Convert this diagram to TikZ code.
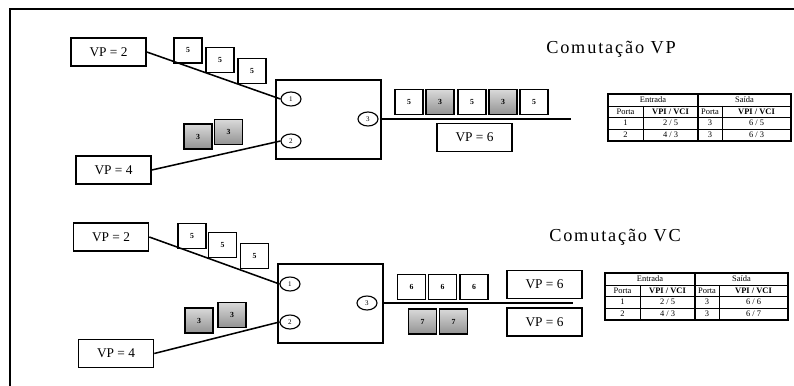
\documentclass[tikz,border=0pt]{standalone}
\usepackage{fontspec}
\setmainfont{Liberation Serif}
\usetikzlibrary{shapes.geometric}

% Tabela de comutacao: #1 prefixo, #2 posicao, #3 e #4 saidas
\newcommand{\tabela}[4]{%
  \begin{scope}[shift={#2}]
    \draw[line width=0.9pt] (0,0) rectangle (183,47);
    \draw[thin] (0,12) -- (183,12) (0,23) -- (183,23) (0,35) -- (183,35);
    \draw[line width=0.9pt] (90,0) -- (90,47);
    \draw[thin] (35,12) -- (35,47) (114,12) -- (114,47);
    \node[tabtxt] (#1ent) at (45,6) {Entrada};
    \node[tabtxt] (#1sai) at (136.5,6) {Saída};
    \node[tabtxt] (#1p1) at (17.5,17.5) {Porta};
    \node[tabtxt, font=\fontsize{6}{7}\selectfont\bfseries] (#1v1) at (62.5,17.5) {VPI / VCI};
    \node[tabtxt] (#1p2) at (102,17.5) {Porta};
    \node[tabtxt, font=\fontsize{6}{7}\selectfont\bfseries] (#1v2) at (148.5,17.5) {VPI / VCI};
    \node[tabtxt] (#1a1) at (17.5,29) {1};
    \node[tabtxt] (#1b1) at (62.5,29) {2 / 5};
    \node[tabtxt] (#1c1) at (102,29) {3};
    \node[tabtxt] (#1d1) at (148.5,29) {#3};
    \node[tabtxt] (#1a2) at (17.5,41) {2};
    \node[tabtxt] (#1b2) at (62.5,41) {4 / 3};
    \node[tabtxt] (#1c2) at (102,41) {3};
    \node[tabtxt] (#1d2) at (148.5,41) {#4};
  \end{scope}}

\begin{document}
\begin{tikzpicture}[x=0.025cm, y=-0.025cm,
    linha/.style={line width=1.1pt},
    vpbox/.style={draw, line width=1.1pt, minimum width=1.875cm, minimum height=0.7cm, inner sep=0pt, font=\fontsize{9.5}{10}\selectfont},
    celula/.style={draw, line width=1pt, minimum width=0.7cm, minimum height=0.62cm, inner sep=0pt, font=\fontsize{5.5}{6}\selectfont\bfseries},
    celescura/.style={celula, top color=gray!30, bottom color=gray!85},
    porta/.style={draw, ellipse, line width=0.8pt, minimum width=0.5cm, minimum height=0.35cm, inner sep=0pt, font=\fontsize{5}{6}\selectfont},
    comutador/.style={draw, line width=1.1pt, minimum width=2.625cm, minimum height=1.975cm, inner sep=0pt},
    titulo/.style={font=\fontsize{13}{14}\selectfont\addfontfeature{LetterSpace=10}},
    tabtxt/.style={inner sep=0pt, font=\fontsize{6}{7}\selectfont}]
    \useasboundingbox (0,0) rectangle (794,386);

    % Moldura
    \draw[line width=1.1pt] (10,386) -- (10,9) -- (794,9);

    % ---------- Comutacao VP ----------
    \node[titulo] (tvp) at (611,49) {Comutação VP};

    \node[vpbox] (vp2a) at (108.5,52) {VP = 2};
    \node[vpbox] (vp4a) at (113.5,170) {VP = 4};
    \node[comutador] (swa) at (328.5,119.5) {};
    \node[porta] (p1a) at (291,99) {1};
    \node[porta] (p2a) at (291,141) {2};
    \node[porta] (p3a) at (368,119) {3};
    \coordinate (fima) at (571,119);

    \draw[linha] (vp2a.east) -- (p1a.west);
    \draw[linha] (vp4a.east) -- (p2a.west);
    \draw[linha] (swa.east |- p3a) -- (fima);

    % Celulas de entrada
    \node[celula] (ca1) at (188,50.5) {5};
    \node[celula] (ca2) at (220,60) {5};
    \node[celula] (ca3) at (252,71) {5};
    \node[celescura] (ca4) at (198,136.5) {3};
    \node[celescura] (ca5) at (228.5,132) {3};

    % Celulas de saida
    \node[celula] (sa1) at (409,102) {5};
    \node[celescura] (sa2) at (440,102) {3};
    \node[celula] (sa3) at (472,102) {5};
    \node[celescura] (sa4) at (503,102) {3};
    \node[celula] (sa5) at (534,102) {5};
    \node[vpbox] (vp6a) at (474.5,137.5) {VP = 6};

    \tabela{ta}{(608,94)}{6 / 5}{6 / 3}

    % ---------- Comutacao VC ----------
    \node[titulo] (tvc) at (615,237) {Comutação VC};

    \node[vpbox] (vp2b) at (111,237) {VP = 2};
    \node[vpbox] (vp4b) at (116,353.5) {VP = 4};
    \node[comutador] (swb) at (330.5,303.5) {};
    \node[porta] (p1b) at (290,284) {1};
    \node[porta] (p2b) at (290,322) {2};
    \node[porta] (p3b) at (367,303) {3};
    \coordinate (fimb) at (573,303);

    \draw[linha] (vp2b.east) -- (p1b.west);
    \draw[linha] (vp4b.east) -- (p2b.west);
    \draw[linha] (swb.east |- p3b) -- (fimb);

    % Celulas de entrada
    \node[celula] (cb1) at (192,236) {5};
    \node[celula] (cb2) at (222.5,245) {5};
    \node[celula] (cb3) at (254.5,256) {5};
    \node[celescura] (cb4) at (199,320.5) {3};
    \node[celescura] (cb5) at (232,315) {3};

    % Celulas de saida
    \node[celula] (sb1) at (411.5,287) {6};
    \node[celula] (sb2) at (442.5,287) {6};
    \node[celula] (sb3) at (474,287) {6};
    \node[celescura] (sb4) at (422.5,321.5) {7};
    \node[celescura] (sb5) at (453.5,321.5) {7};
    \node[vpbox] (vp6b) at (544.5,284.5) {VP = 6};
    \node[vpbox] (vp6c) at (544.5,322) {VP = 6};

    \tabela{tb}{(605,273)}{6 / 6}{6 / 7}
\end{tikzpicture}
\end{document}
